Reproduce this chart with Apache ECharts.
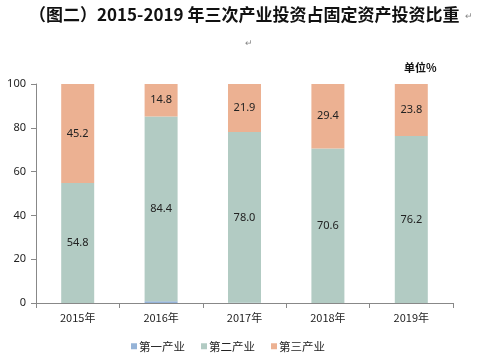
<!DOCTYPE html>
<html><head><meta charset="utf-8">
<script src="https://cdn.jsdelivr.net/npm/echarts@6/dist/echarts.min.js"></script>
<style>html,body{margin:0;padding:0;background:#fff}#c{width:500px;height:360px}</style>
</head><body><div id="c"></div>
<script>
var categories = ['2015年','2016年','2017年','2018年','2019年'];
var primary = [0, 0.8, 0.1, 0, 0];
var secondary = [54.8, 84.4, 78.0, 70.6, 76.2];
var tertiary = [45.2, 14.8, 21.9, 29.4, 23.8];
var seriesNames = ['第一产业','第二产业','第三产业'];
var yTicks = [0, 20, 40, 60, 80, 100];

var chart = echarts.init(document.getElementById('c'));
var lblFamily = '"Noto Sans", "DejaVu Sans", sans-serif';
chart.setOption({
  animation:false,
  textStyle:{fontFamily:'"Noto Sans CJK SC", sans-serif'},
  title:[{
    text:'（图二）2015-2019 年三次产业投资占固定资产投资比重',
    left:24, top:1,
    textStyle:{fontFamily:'"Noto Sans CJK SC", serif', fontWeight:'bold', fontSize:17, color:'#111'}
  },{
    text:'↵', left:460, top:6, textStyle:{fontSize:9, color:'#888', fontWeight:'normal'}
  },{
    text:'↵', left:240, top:33, textStyle:{fontSize:9, color:'#888', fontWeight:'normal'}
  },{
    text:'单位%', left:399, top:57,
    textStyle:{fontFamily:'"Noto Sans CJK SC", sans-serif', fontWeight:'bold', fontSize:11, color:'#111'}
  }],
  legend:{
    bottom:3, left:126, itemWidth:6, itemHeight:6, itemGap:16,
    icon:'rect',
    textStyle:{fontFamily:'"Noto Sans CJK SC", sans-serif', fontSize:11.5, color:'#222', padding:[0,0,0,-3]},
    data:seriesNames
  },
  grid:{left:36, right:47, top:84, bottom:57},
  xAxis:{
    type:'category', data:categories,
    axisLine:{lineStyle:{color:'#888'}},
    axisTick:{show:true, length:5, lineStyle:{color:'#888'}},
    axisLabel:{fontFamily:'"Noto Sans CJK SC", sans-serif', fontSize:11, color:'#222', margin:9}
  },
  yAxis:{
    type:'value', min:0, max:100, interval:20,
    axisLine:{show:true, lineStyle:{color:'#888'}},
    axisTick:{show:true, length:5, lineStyle:{color:'#888'}},
    splitLine:{show:false},
    axisLabel:{fontFamily:lblFamily, fontSize:11, color:'#222', margin:10,
      formatter:function(v){return yTicks.indexOf(v)>=0 ? String(v) : '';}}
  },
  series:[{
    name:seriesNames[0], type:'bar', stack:'a', barWidth:33, data:primary,
    itemStyle:{color:'#95b3d7'}
  },{
    name:seriesNames[1], type:'bar', stack:'a', barWidth:33, data:secondary,
    itemStyle:{color:'#b2cbc3'},
    label:{show:true, position:'inside', formatter:function(p){return p.value.toFixed(1);}, fontFamily:lblFamily, fontSize:11, color:'#222'}
  },{
    name:seriesNames[2], type:'bar', stack:'a', barWidth:33, data:tertiary,
    itemStyle:{color:'#ecb192'},
    label:{show:true, position:'inside', formatter:function(p){return p.value.toFixed(1);}, fontFamily:lblFamily, fontSize:11, color:'#222'}
  }]
});
</script></body></html>
